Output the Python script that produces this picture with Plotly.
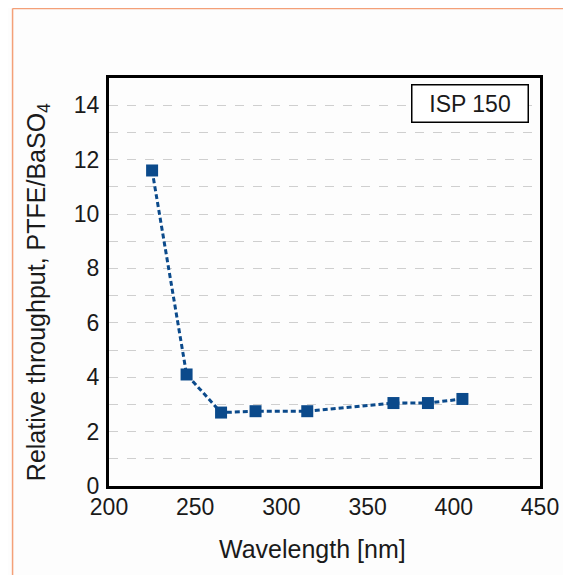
import plotly.graph_objects as go

wavelength = [225, 245, 265, 285, 315, 365, 385, 405]
throughput = [11.6, 4.1, 2.7, 2.75, 2.75, 3.05, 3.05, 3.2]
x_ticks = [200, 250, 300, 350, 400, 450]
y_ticks = [0, 2, 4, 6, 8, 10, 12, 14]

blue = "#0b4a8b"
ink = "#1a1a1a"
font = "Liberation Sans, Arial, sans-serif"
# the page adds an 8px body margin, so the figure is drawn 8px smaller
W, H = 563, 567
L, R, T, B = 101, 24, 70, 89
pw, ph = W - L - R, H - T - B


def px_x(x):
    return (x - L) / pw


def px_y(y):
    return 1 - (y - T) / ph


fig = go.Figure()
fig.add_trace(go.Scatter(
    x=wavelength, y=throughput, mode="lines+markers",
    line=dict(color=blue, width=3, dash="5px,3px"),
    marker=dict(symbol="square", size=12, color=blue),
    showlegend=False,
))

fig.update_layout(
    width=W, height=H,
    margin=dict(l=L, r=R, t=T, b=B),
    paper_bgcolor="#fdfdfd", plot_bgcolor="#fdfdfd",
    font=dict(family=font, size=23, color=ink),
    xaxis=dict(
        range=[200, 450], tickvals=x_ticks, ticks="", showgrid=False,
        showline=True, linecolor="black", linewidth=3, mirror=True,
        zeroline=False, tickfont=dict(size=23), ticklabelstandoff=-2,
    ),
    yaxis=dict(
        range=[0, 15], tickvals=y_ticks, ticks="", tickfont=dict(size=23),
        ticklabelstandoff=2,
        showgrid=True, gridcolor="#cfcfcf", griddash="dash", gridwidth=1,
        minor=dict(dtick=1, showgrid=True, gridcolor="#cfcfcf", griddash="dash", gridwidth=1),
        showline=True, linecolor="black", linewidth=3, mirror=True,
        zeroline=False,
    ),
    shapes=[
        dict(type="line", xref="paper", yref="paper",
             x0=px_x(3), x1=px_x(3), y0=-0.5, y1=px_y(0.5),
             line=dict(color="#f4a078", width=1.5)),
        dict(type="line", xref="paper", yref="paper",
             x0=px_x(3), x1=px_x(W), y0=px_y(0.5), y1=px_y(0.5),
             line=dict(color="#f4a078", width=1.5)),
    ],
    annotations=[
        dict(x=px_x(528), y=px_y(76), xref="paper", yref="paper",
             xanchor="right", yanchor="top",
             text="ISP 150", showarrow=False, font=dict(size=23, color=ink),
             width=107, height=28,
             bordercolor="black", borderwidth=1.5, borderpad=4, bgcolor="white"),
        dict(x=px_x(308), y=px_y(541), xref="paper", yref="paper",
             xanchor="center", yanchor="middle",
             text="Wavelength [nm]", showarrow=False, font=dict(size=25, color=ink)),
        dict(x=px_x(29), y=px_y(284), xref="paper", yref="paper",
             xanchor="center", yanchor="middle", textangle=-90,
             text="Relative throughput, PTFE/BaSO<sub>4</sub>", showarrow=False,
             font=dict(size=25, color=ink)),
    ],
)

fig.write_html("out.html", config={"displayModeBar": False})
